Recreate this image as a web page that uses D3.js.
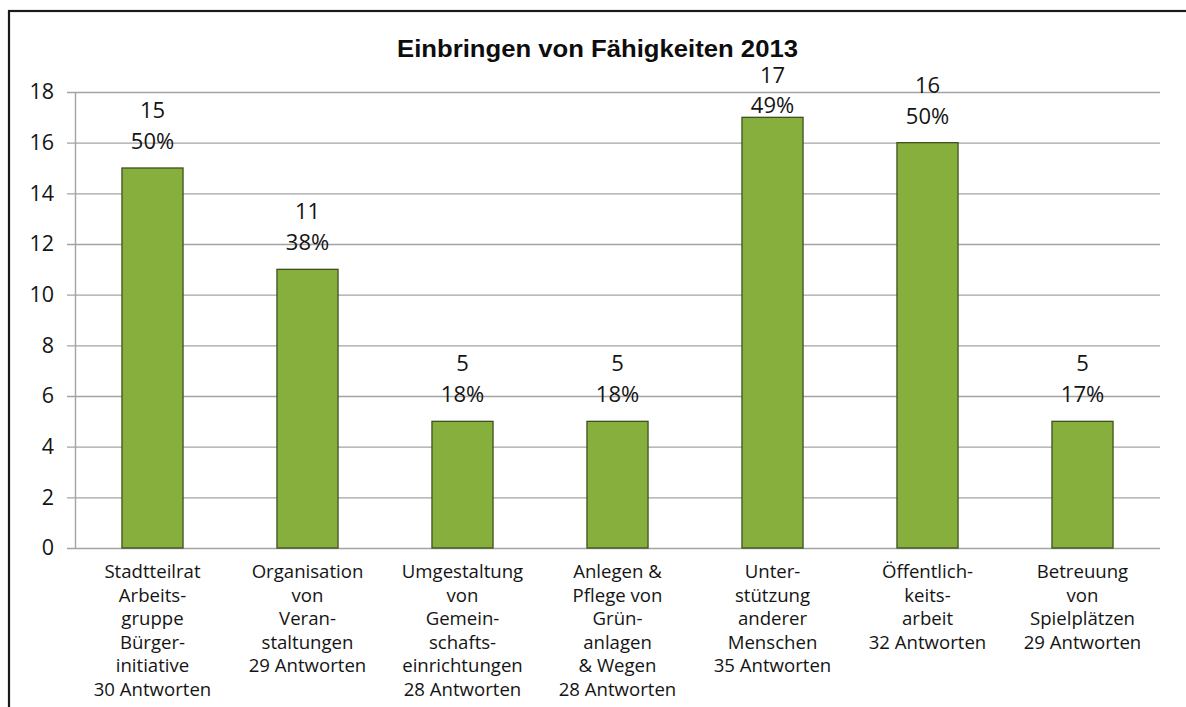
<!DOCTYPE html>
<html>
<head>
  <meta charset="utf-8">
  <title>Einbringen von Fähigkeiten 2013</title>
  <script src="https://d3js.org/d3.v7.min.js"></script>
  <style>
    body { margin: 0; background: #fff; }
    svg { display: block; }
  </style>
</head>
<body>
  <script>
    // data
    const categories = [
      ["Stadtteilrat", "Arbeits-", "gruppe", "Bürger-", "initiative"],
      ["Organisation", "von", "Veran-", "staltungen"],
      ["Umgestaltung", "von", "Gemein-", "schafts-", "einrichtungen"],
      ["Anlegen &", "Pflege von", "Grün-", "anlagen", "& Wegen"],
      ["Unter-", "stützung", "anderer", "Menschen"],
      ["Öffentlich-", "keits-", "arbeit"],
      ["Betreuung", "von", "Spielplätzen"]
    ];
    const answers = [30, 29, 28, 28, 35, 32, 29];
    const values = [15, 11, 5, 5, 17, 16, 5];
    const percents = ["50%", "38%", "18%", "18%", "49%", "50%", "17%"];
    const yTicks = [0, 2, 4, 6, 8, 10, 12, 14, 16, 18];

    const W = 1186, H = 707;
    const plot = {left: 75, right: 1160, top: 92, bottom: 548};
    const labelFont = "'Open Sans', 'DejaVu Sans', sans-serif";
    const textColor = "#141414";

    const svg = d3.select("body").append("svg")
      .attr("width", W)
      .attr("height", H);

    // outer frame (right and bottom edges fall outside the picture)
    svg.append("rect")
      .attr("x", 9).attr("y", 11)
      .attr("width", W + 20).attr("height", H + 20)
      .attr("fill", "none")
      .attr("stroke", "#1a1a1a")
      .attr("stroke-width", 2.2);

    const x = d3.scaleBand()
      .domain(d3.range(values.length))
      .range([plot.left, plot.right])
      .paddingInner(0.606)
      .paddingOuter(0.303);

    const y = d3.scaleLinear()
      .domain([0, 18])
      .range([plot.bottom, plot.top]);

    // gridlines
    svg.append("g")
      .attr("transform", `translate(${plot.left - 8},0)`)
      .call(d3.axisRight(y).tickValues(yTicks).tickSize(plot.right - plot.left + 8).tickFormat(""))
      .call(g => g.select(".domain").remove())
      .call(g => g.selectAll("line").attr("stroke", "#a3a3a3").attr("stroke-width", 1.4));

    // y axis
    svg.append("g")
      .attr("transform", `translate(${plot.left},0)`)
      .call(d3.axisLeft(y).tickValues(yTicks).tickSize(0).tickPadding(21))
      .call(g => g.select(".domain").attr("stroke", "#a3a3a3").attr("stroke-width", 1.4))
      .call(g => g.selectAll("text")
        .attr("font-family", labelFont)
        .attr("font-size", 21.5)
        .attr("fill", textColor));

    // bars
    svg.selectAll(".bar")
      .data(values)
      .enter().append("rect")
      .attr("class", "bar")
      .attr("x", (d, i) => x(i))
      .attr("y", d => y(d))
      .attr("width", x.bandwidth())
      .attr("height", d => y(0) - y(d))
      .attr("fill", "#87af3d")
      .attr("stroke", "#3f5020")
      .attr("stroke-width", 1.3);

    // value labels: count and percent, kept below the title like Excel does
    const vl = svg.selectAll(".vlabel")
      .data(values)
      .enter().append("text")
      .attr("class", "vlabel")
      .attr("text-anchor", "middle")
      .attr("font-family", labelFont)
      .attr("font-size", 22)
      .attr("fill", textColor);
    vl.append("tspan")
      .attr("x", (d, i) => x(i) + x.bandwidth() / 2)
      .attr("y", d => Math.max(y(d) - 50, plot.top - 9))
      .text(d => d);
    vl.append("tspan")
      .attr("x", (d, i) => x(i) + x.bandwidth() / 2)
      .attr("y", d => Math.max(y(d) - 19, plot.top + 21))
      .text((d, i) => percents[i]);

    // category labels
    const cl = svg.selectAll(".clabel")
      .data(categories)
      .enter().append("text")
      .attr("class", "clabel")
      .attr("text-anchor", "middle")
      .attr("font-family", labelFont)
      .attr("font-size", 18.6)
      .attr("fill", textColor);
    cl.each(function(lines, i) {
      const all = lines.concat([answers[i] + " Antworten"]);
      d3.select(this).selectAll("tspan")
        .data(all)
        .enter().append("tspan")
        .attr("x", x(i) + x.bandwidth() / 2)
        .attr("y", (d, j) => plot.bottom + 30 + j * 23.6)
        .text(d => d);
    });

    // title
    svg.append("text")
      .attr("x", 597.5)
      .attr("y", 57)
      .attr("text-anchor", "middle")
      .attr("font-family", "'Liberation Sans', Arial, sans-serif")
      .attr("font-weight", "bold")
      .attr("font-size", 23)
      .attr("textLength", 401)
      .attr("lengthAdjust", "spacingAndGlyphs")
      .attr("fill", "#0d0d0d")
      .text("Einbringen von Fähigkeiten 2013");
  </script>
</body>
</html>
